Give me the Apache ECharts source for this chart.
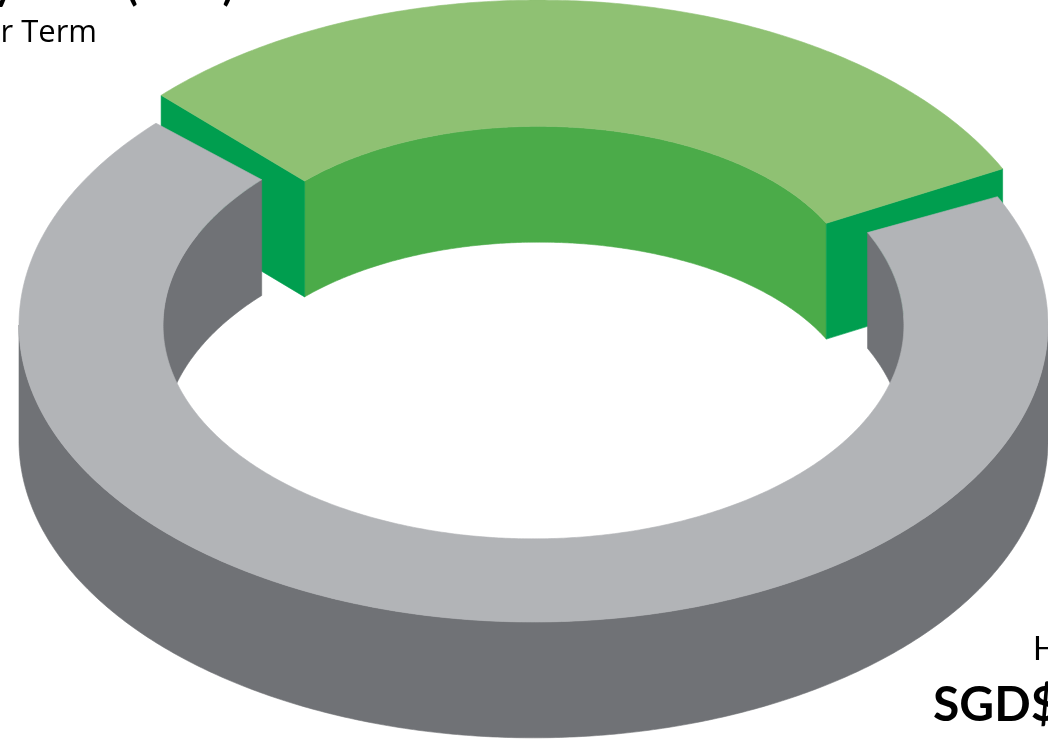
<!DOCTYPE html>
<html>
<head>
<meta charset="utf-8">
<script src="https://cdn.jsdelivr.net/npm/echarts@6/dist/echarts.min.js"></script>
<style>
html,body{margin:0;padding:0;background:#fff;}
#chart{width:1048px;height:740px;}
</style>
</head>
<body>
<div id="chart"></div>
<script>
// ---- data ----
const categories = ['Highlighted', 'Remaining'];
const shareValues = [31, 69];
const headingLines = ['Monthly Total (SGD)', 'Year Term'];
const cornerLabel = 'H';
const cornerValue = 'SGD$';

// ---- geometry / style (not data) ----
const START_DEG = 137.2;          // first slice starts here, clockwise
const DEPTH = 0.39;               // ring thickness in y units
const LIFT = [0.094, 0];          // raised highlighted slice
const SHIFT = [0.01, 0];
const R_OUT = [[1.0, 1.0], [1.0, 1.0]];
const R_IN = [[0.62, 0.575], [0.72, 0.72]];
const COLORS = [
  {top: '#8fc173', inner: '#4bab49', end: '#009e4f', outer: '#009e4f'},
  {top: '#b2b4b7', inner: '#707276', end: '#707276', outer: '#707276'}
];

const total = shareValues.reduce((a, b) => a + b, 0);
const sliceAngles = [];
let acc = START_DEG;
shareValues.forEach(v => {
  const hi = acc, lo = acc - v / total * 360;
  sliceAngles.push([lo, hi]);
  acc = lo;
});

function ranges(lo, hi, back) {
  const out = [];
  for (let k = -3; k <= 3; k++) {
    const a = back ? 360 * k : 360 * k - 180;
    const b = a + 180;
    const s = Math.max(lo, a), e = Math.min(hi, b);
    if (e > s) out.push([s, e]);
  }
  return out;
}

function renderItem(params, api) {
  const i = params.dataIndex;
  const [lo, hi] = sliceAngles[i];
  const dz = LIFT[i], dx = SHIFT[i], ro = R_OUT[i], ri = R_IN[i];
  const c = COLORS[i];
  const rad = d => d * Math.PI / 180;
  const pt = (r, d, z) => api.coord([dx + r[0] * Math.cos(rad(d)), r[1] * Math.sin(rad(d)) + z]);
  const arc = (r, d0, d1, z) => {
    const n = Math.max(2, Math.ceil(Math.abs(d1 - d0) / 0.5));
    const p = [];
    for (let k = 0; k <= n; k++) p.push(pt(r, d0 + (d1 - d0) * k / n, z));
    return p;
  };
  const poly = (points, fill, z2) => ({
    type: 'polygon', z2: z2,
    shape: {points: points},
    style: {fill: fill, stroke: fill, lineWidth: 0.6}
  });
  const children = [];
  const base = i === 0 ? 0 : 10;
  ranges(lo, hi, true).forEach(([a, b]) => {
    children.push(poly(arc(ri, a, b, dz).concat(arc(ri, b, a, dz - DEPTH)), c.inner, base + 1));
  });
  ranges(lo, hi, false).forEach(([a, b]) => {
    children.push(poly(arc(ro, a, b, dz).concat(arc(ro, b, a, dz - DEPTH)), c.outer, base + 2));
  });
  const endFace = d => [pt(ro, d, dz), pt(ri, d, dz), pt(ri, d, dz - DEPTH), pt(ro, d, dz - DEPTH)];
  if (Math.cos(rad(hi)) < 0) children.push(poly(endFace(hi), c.end, base + 3));
  if (Math.cos(rad(lo)) > 0) children.push(poly(endFace(lo), c.end, base + 3));
  children.push(poly(arc(ro, lo, hi, dz).concat(arc(ri, hi, lo, dz)), c.top, base + 4));
  return {type: 'group', children: children};
}

const chart = echarts.init(document.getElementById('chart'), null, {renderer: 'canvas'});
chart.setOption({
  animation: false,
  backgroundColor: '#ffffff',
  grid: {left: 19, top: 28, width: 1034, height: 594},
  xAxis: {type: 'value', min: -1, max: 1, show: false},
  yAxis: {type: 'value', min: -1, max: 1, show: false},
  series: [{
    type: 'custom',
    coordinateSystem: 'cartesian2d',
    clip: false,
    renderItem: renderItem,
    data: categories.map((name, i) => ({name: name, value: [0, 0, shareValues[i]]}))
  }],
  graphic: [
    {type: 'text', x: 234, y: -35, style: {text: headingLines[0], textAlign: 'right', textVerticalAlign: 'top',
      font: 'bold 42px Lato', fill: '#000'}},
    {type: 'text', x: 97, y: 18, style: {text: headingLines[1], textAlign: 'right', textVerticalAlign: 'top',
      font: '31px "Open Sans"', fill: '#000'}},
    {type: 'text', x: 1033, y: 634, style: {text: cornerLabel, textAlign: 'left', textVerticalAlign: 'top',
      font: '32px Lato', fill: '#000'}},
    {type: 'text', x: 933, y: 682, style: {text: cornerValue, textAlign: 'left', textVerticalAlign: 'top',
      font: 'bold 48px Lato', fill: '#000'}}
  ]
});
</script>
</body>
</html>
